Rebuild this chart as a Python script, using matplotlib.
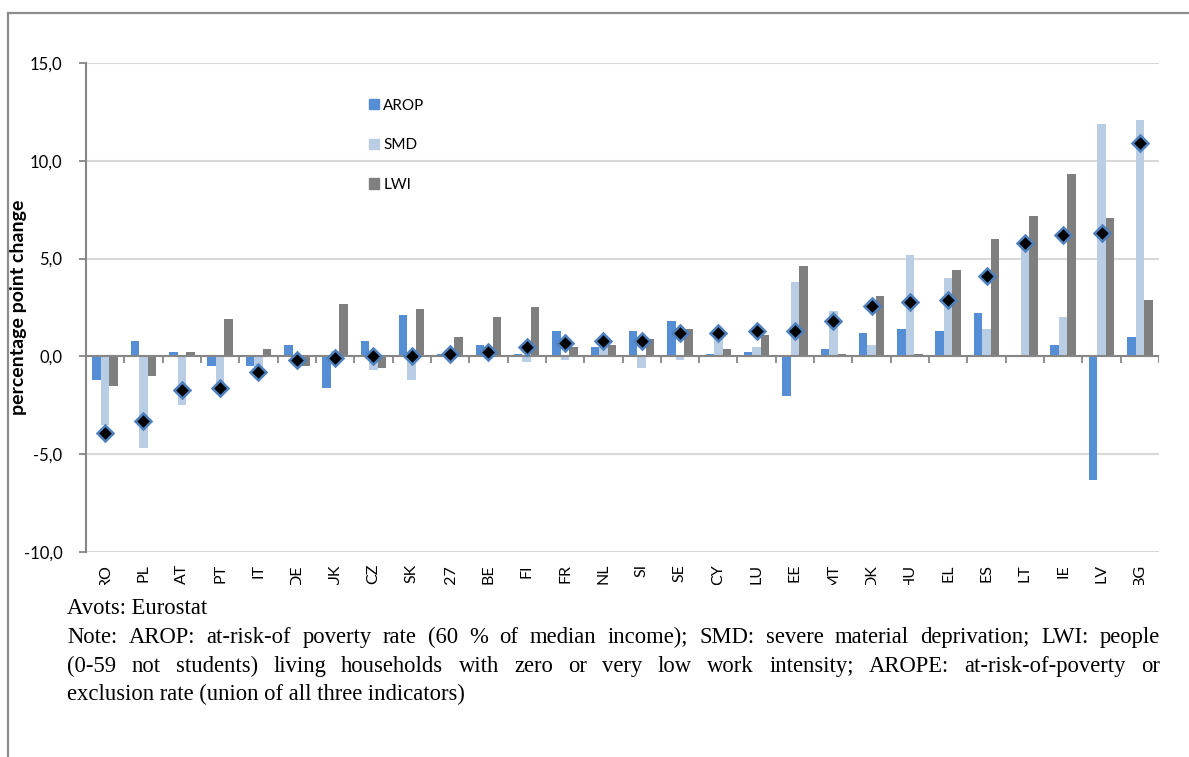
import numpy as np
import matplotlib
matplotlib.use("Agg")
import matplotlib.pyplot as plt
from matplotlib.transforms import Bbox, TransformedBbox
from matplotlib.patches import Patch
from matplotlib.lines import Line2D

countries = ["RO", "PL", "AT", "PT", "IT", "DE", "UK", "CZ", "SK", "EU27", "BE", "FI", "FR", "NL",
             "SI", "SE", "CY", "LU", "EE", "MT", "DK", "HU", "EL", "ES", "LT", "IE", "LV", "BG"]
arop = [-1.2, 0.8, 0.2, -0.5, -0.5, 0.6, -1.6, 0.8, 2.1, 0.1, 0.6, 0.1, 1.3, 0.5,
        1.3, 1.8, 0.1, 0.2, -2.0, 0.4, 1.2, 1.4, 1.3, 2.2, 0.0, 0.6, -6.3, 1.0]
smd = [-3.5, -4.7, -2.5, -1.5, -0.7, -0.2, 0.3, -0.7, -1.2, 0.0, 0.5, -0.3, -0.2, 0.6,
       -0.6, -0.2, 1.1, 0.5, 3.8, 2.3, 0.6, 5.2, 4.0, 1.4, 5.9, 2.0, 11.9, 12.1]
lwi = [-1.5, -1.0, 0.2, 1.9, 0.4, -0.5, 2.7, -0.6, 2.4, 1.0, 2.0, 2.5, 0.5, 0.6,
       0.9, 1.4, 0.4, 1.1, 4.6, 0.1, 3.1, 0.1, 4.4, 6.0, 7.2, 9.3, 7.1, 2.9]
arope = [-3.9, -3.3, -1.7, -1.6, -0.8, -0.2, -0.1, 0.0, 0.0, 0.1, 0.2, 0.5, 0.7, 0.8,
         0.8, 1.2, 1.2, 1.3, 1.3, 1.8, 2.6, 2.8, 2.9, 4.1, 5.8, 6.2, 6.3, 10.9]
yticks = [-10, -5, 0, 5, 10, 15]
ytick_labels = ["-10,0", "-5,0", "0,0", "5,0", "10,0", "15,0"]

note_lines = [
    "Avots: Eurostat",
    "Note: AROP: at-risk-of poverty rate (60 % of median income); SMD: severe material deprivation; LWI: people",
    "(0-59 not students) living households with zero or very low work intensity; AROPE: at-risk-of-poverty or",
    "exclusion rate (union of all three indicators)",
]

W, H = 1189, 757
fig = plt.figure(figsize=(W / 100, H / 100), dpi=100)
fig.patch.set_facecolor("white")

# plot area in pixels
L, R, T, B = 86, 1159, 63, 552
ax = fig.add_axes([L / W, 1 - B / H, (R - L) / W, (B - T) / H])

c_arop, c_smd, c_lwi = "#558ED5", "#B9CDE5", "#7F7F7F"
axis_col = "#868686"
x = np.arange(len(countries))
bw = 0.222

ax.set_xlim(-0.5, len(countries) - 0.5)
ax.set_ylim(-10, 15)
for yv in yticks:
    ax.axhline(yv, color="#D9D9D9", lw=1.5, zorder=0)

ax.bar(x - bw, arop, bw, color=c_arop, zorder=2, label="AROP")
ax.bar(x, smd, bw, color=c_smd, zorder=2, label="SMD")
ax.bar(x + bw, lwi, bw, color=c_lwi, zorder=2, label="LWI")

ax.axhline(0, color=axis_col, lw=1.5, zorder=3)
ax.vlines(np.arange(0.5, len(countries)), -0.35, 0, color=axis_col, lw=1.3, zorder=3)

ax.plot(x, arope, linestyle="none", marker="D", markersize=8.5, markerfacecolor="black",
        markeredgecolor="#4F81BD", markeredgewidth=1.8, zorder=5)

for s in ["top", "right", "bottom"]:
    ax.spines[s].set_visible(False)
ax.spines["left"].set_color(axis_col)
ax.spines["left"].set_linewidth(1.5)
ax.set_yticks(yticks)
ax.set_yticklabels(ytick_labels, fontfamily="Lato", fontsize=12)
ax.tick_params(axis="y", length=5, width=1.3, color=axis_col, pad=12)
ax.set_xticks([])

ax.set_ylabel("percentage point change", fontfamily="Lato", fontweight="bold", fontsize=14)
ax.yaxis.set_label_coords((27 - L) / (R - L), 0.5)

# x tick labels, clipped at the bottom of the chart box
clipbb = TransformedBbox(Bbox([[0, 1 - 585 / H], [1, 1]]), fig.transFigure)
for xi, lab in zip(x, countries):
    t = ax.text(xi, -(564 - B) / (B - T), lab, transform=ax.get_xaxis_transform(),
                rotation=90, ha="center", va="top", fontfamily="Lato", fontsize=11.5,
                clip_on=True)
    t.set_clip_box(clipbb)

handles = [Patch(color=c_arop), Patch(color=c_smd), Patch(color=c_lwi)]
fig.legend(handles, ["AROP", "SMD", "LWI"], loc="upper left",
           bbox_to_anchor=(361 / W, 1 - 91 / H), frameon=False, borderpad=0,
           handlelength=0.66, handleheight=0.66, handletextpad=0.3,
           labelspacing=1.68, prop={"family": "Lato", "size": 11})

# outer frame lines
fig.add_artist(Line2D([8 / W, 1], [1 - 12.5 / H, 1 - 12.5 / H], color="#8C8C8C", lw=1.6,
                      transform=fig.transFigure))
fig.add_artist(Line2D([8 / W, 8 / W], [0, 1 - 12.5 / H], color="#8C8C8C", lw=1.6,
                      transform=fig.transFigure))

# note text, justified
renderer = fig.canvas.get_renderer()
x0, x1 = 67, 1160
baselines = [614, 643, 672, 700]
kw = dict(fontfamily="Liberation Serif", fontsize=16.3, va="baseline", ha="left")
for i, (line, yb) in enumerate(zip(note_lines, baselines)):
    if i in (1, 2):
        words = line.split(" ")
        texts = [fig.text(0, 1 - yb / H, w, **kw) for w in words]
        widths = [t.get_window_extent(renderer).width for t in texts]
        gap = (x1 - x0 - sum(widths)) / (len(words) - 1)
        xp = x0
        for t, wd in zip(texts, widths):
            t.set_x(xp / W)
            xp += wd + gap
    else:
        fig.text(x0 / W, 1 - yb / H, line, **kw)

fig.savefig("out.png", dpi=100)
